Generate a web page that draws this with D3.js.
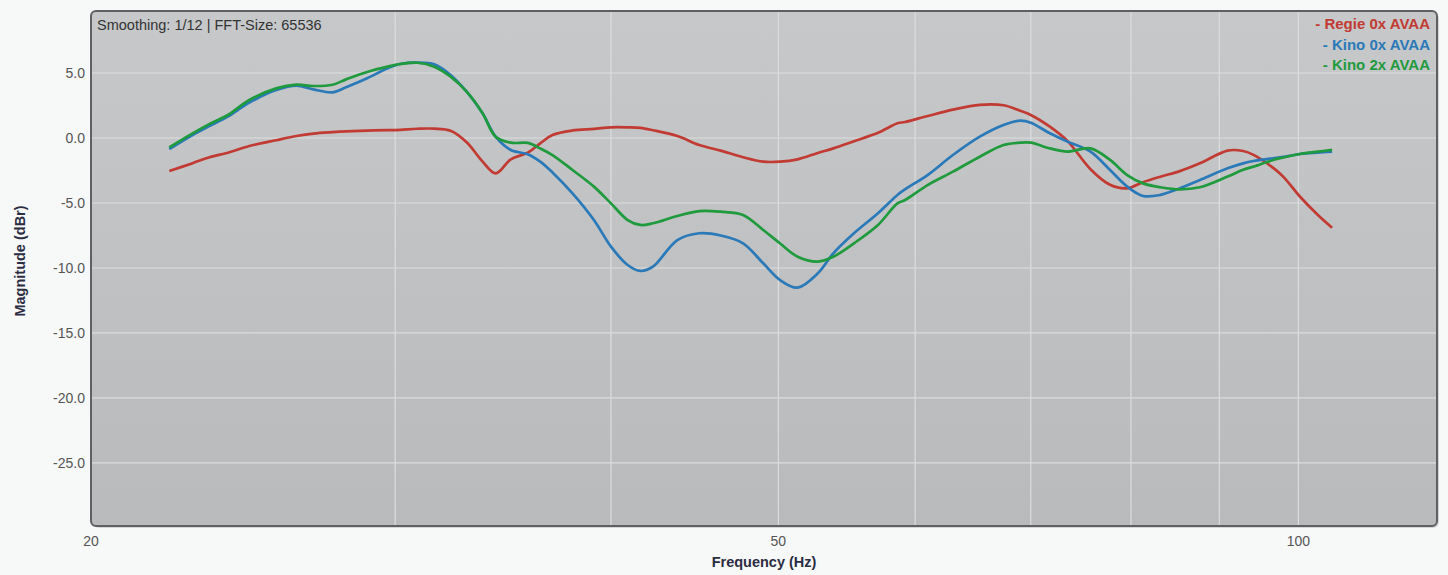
<!DOCTYPE html>
<html>
<head>
<meta charset="utf-8">
<script src="https://cdn.jsdelivr.net/npm/d3@7"></script>
<style>
  body { margin: 0; background: #f7f8f8; }
  svg { display: block; font-family: "Liberation Sans", Arial, sans-serif; }
</style>
</head>
<body>
<script>
//============ Frequency response =========//
var seriesNames = ['Regie 0x AVAA', 'Kino 0x AVAA', 'Kino 2x AVAA'],
  seriesColors = ['#c23b33', '#2a79b8', '#1f9a3c'];

// frequencies (Hz)
var freqs = [22.2, 22.9, 23.4, 24.0, 24.7, 25.6, 26.3, 26.9, 27.6, 28.1, 28.9, 29.7, 30.2, 30.9, 31.6,
  32.3, 33.0, 33.7, 34.3, 35.0, 35.8, 36.4, 37.0, 38.0, 39.1, 40.0, 40.9, 41.6, 42.3, 43.7, 45.0,
  46.3, 47.7, 49.0, 50.1, 51.3, 52.7, 53.8, 55.3, 57.1, 58.6, 59.2, 61.0, 63.1, 65.4, 67.5, 69.0,
  70.0, 71.8, 73.5, 75.8, 77.8, 79.6, 81.3, 83.2, 85.4, 87.7, 91.0, 92.9, 94.2, 96.7, 98.0, 100.2,
  102.6, 104.6];

// magnitude (dBr)
var regie0x = [-2.54, -1.94, -1.5, -1.13, -0.62, -0.17, 0.15, 0.34, 0.45, 0.51, 0.57, 0.6, 0.63, 0.71, 0.72,
  0.56, -0.33, -1.8, -2.72, -1.64, -1.13, -0.41, 0.23, 0.58, 0.7, 0.82, 0.82, 0.78, 0.6, 0.15, -0.54,
  -0.97, -1.48, -1.82, -1.82, -1.64, -1.15, -0.8, -0.25, 0.4, 1.13, 1.23, 1.69, 2.18, 2.55, 2.52, 2.1,
  1.77, 0.87, -0.22, -2.4, -3.6, -3.87, -3.4, -2.98, -2.55, -1.95, -0.97, -1.0, -1.3, -2.3, -2.97, -4.5,
  -5.9, -6.9];

var kino0x = [-0.85, 0.23, 0.9, 1.64, 2.72, 3.69, 4.03, 3.74, 3.51, 3.9, 4.59, 5.36, 5.69, 5.8, 5.67,
  4.85, 3.56, 1.92, 0.1, -0.92, -1.25, -1.82, -2.65, -4.26, -6.31, -8.36, -9.77, -10.23, -9.9, -7.85, -7.33,
  -7.5, -8.1, -9.64, -10.92, -11.51, -10.41, -8.87, -7.33, -5.79, -4.38, -3.95, -2.85, -1.31, 0.1, 1.0, 1.33,
  1.18, 0.36, -0.28, -1.05, -2.46, -3.74, -4.46, -4.38, -3.87, -3.23, -2.33, -1.95, -1.77, -1.56, -1.45, -1.23,
  -1.12, -1.05];

var kino2x = [-0.72, 0.36, 1.05, 1.77, 2.92, 3.82, 4.1, 4.0, 4.1, 4.51, 5.08, 5.49, 5.69, 5.79, 5.49,
  4.72, 3.56, 1.92, 0.1, -0.36, -0.38, -0.8, -1.31, -2.46, -3.74, -5.03, -6.31, -6.69, -6.56, -6.0, -5.62,
  -5.67, -5.92, -7.08, -8.1, -9.13, -9.51, -9.13, -8.1, -6.69, -5.03, -4.77, -3.62, -2.59, -1.44, -0.54, -0.36,
  -0.36, -0.8, -1.05, -0.8, -1.69, -2.85, -3.49, -3.79, -3.95, -3.79, -2.97, -2.45, -2.2, -1.69, -1.5, -1.23,
  -1.05, -0.92];

var yTicks = [5, 0, -5, -10, -15, -20, -25],
  xGrid = [30, 40, 50, 60, 70, 80, 90, 100],
  xTickLabels = [20, 50, 100];

var width = 1448, height = 575;
var plot = {left: 91, top: 11, right: 1437, bottom: 526};

var x = d3.scaleLog().domain([20, 120.3]).range([plot.left, plot.right]);
var y = d3.scaleLinear().domain([-29.85, 9.77]).range([plot.bottom, plot.top]);

var svg = d3.select('body').append('svg')
  .attr('width', width)
  .attr('height', height);

var defs = svg.append('defs');
var grad = defs.append('linearGradient')
  .attr('id', 'bg').attr('x1', 0).attr('y1', 0).attr('x2', 0).attr('y2', 1);
grad.append('stop').attr('offset', '0%').attr('stop-color', '#c6c8ca');
grad.append('stop').attr('offset', '100%').attr('stop-color', '#b8babc');

var clip = defs.append('clipPath').attr('id', 'clip');
clip.append('rect')
  .attr('x', plot.left).attr('y', plot.top)
  .attr('width', plot.right - plot.left).attr('height', plot.bottom - plot.top)
  .attr('rx', 5);

// shadow + panel
svg.append('rect')
  .attr('x', plot.left + 2).attr('y', plot.top + 2)
  .attr('width', plot.right - plot.left).attr('height', plot.bottom - plot.top)
  .attr('rx', 6)
  .style('fill', '#d4d6d7');
svg.append('rect')
  .attr('x', plot.left).attr('y', plot.top)
  .attr('width', plot.right - plot.left).attr('height', plot.bottom - plot.top)
  .attr('rx', 5)
  .style('fill', 'url(#bg)');

var inner = svg.append('g').attr('clip-path', 'url(#clip)');

// grid
inner.selectAll('.hgrid').data(yTicks).enter().append('line')
  .attr('x1', plot.left).attr('x2', plot.right)
  .attr('y1', function(d) { return y(d); }).attr('y2', function(d) { return y(d); })
  .style('stroke', '#dcdddf').style('stroke-width', 1.2);

inner.selectAll('.vgrid').data(xGrid).enter().append('line')
  .attr('y1', plot.top).attr('y2', plot.bottom)
  .attr('x1', function(d) { return x(d); }).attr('x2', function(d) { return x(d); })
  .style('stroke', '#dcdddf').style('stroke-width', 1.2);

// lines
var line = d3.line()
  .x(function(d) { return x(d.f); })
  .y(function(d) { return y(d.v); })
  .curve(d3.curveCatmullRom.alpha(0.5));

[regie0x, kino0x, kino2x].forEach(function(vals, i) {
  var pts = freqs.map(function(f, j) { return {f: f, v: vals[j]}; });
  inner.append('path')
    .attr('d', line(pts))
    .style('fill', 'none')
    .style('stroke', seriesColors[i])
    .style('stroke-width', 2.7)
    .style('stroke-linejoin', 'round');
});

// frame
svg.append('rect')
  .attr('x', plot.left).attr('y', plot.top)
  .attr('width', plot.right - plot.left).attr('height', plot.bottom - plot.top)
  .attr('rx', 5)
  .style('fill', 'none')
  .style('stroke', '#5e6062')
  .style('stroke-width', 2);

// y tick labels
svg.selectAll('.ylab').data(yTicks).enter().append('text')
  .attr('x', 85)
  .attr('y', function(d) { return y(d); })
  .attr('dy', '0.35em')
  .attr('text-anchor', 'end')
  .style('font-size', '14px')
  .style('fill', '#555')
  .text(function(d) { return d.toFixed(1); });

// x tick labels
svg.selectAll('.xlab').data(xTickLabels).enter().append('text')
  .attr('x', function(d) { return x(d); })
  .attr('y', 541)
  .attr('dy', '0.35em')
  .attr('text-anchor', 'middle')
  .style('font-size', '14px')
  .style('fill', '#555')
  .text(function(d) { return d; });

// axis titles
svg.append('text')
  .attr('x', (plot.left + plot.right) / 2)
  .attr('y', 562)
  .attr('dy', '0.35em')
  .attr('text-anchor', 'middle')
  .style('font-size', '14.5px')
  .style('font-weight', 'bold')
  .style('fill', '#2b2d42')
  .text('Frequency (Hz)');

svg.append('text')
  .attr('transform', 'translate(20,' + 261 + ') rotate(-90)')
  .attr('dy', '0.35em')
  .attr('text-anchor', 'middle')
  .style('font-size', '14.5px')
  .style('font-weight', 'bold')
  .style('fill', '#2b2d42')
  .text('Magnitude (dBr)');

// info text
svg.append('text')
  .attr('x', 97).attr('y', 25)
  .attr('dy', '0.35em')
  .style('font-size', '14.5px')
  .style('fill', '#333')
  .text('Smoothing: 1/12 | FFT-Size: 65536');

// legend
svg.selectAll('.leg').data(seriesNames).enter().append('text')
  .attr('x', 1430)
  .attr('y', function(d, i) { return 24 + i * 20.5; })
  .attr('dy', '0.35em')
  .attr('text-anchor', 'end')
  .style('font-size', '15px')
  .style('font-weight', 'bold')
  .style('fill', function(d, i) { return seriesColors[i]; })
  .text(function(d) { return '- ' + d; });
</script>
</body>
</html>
